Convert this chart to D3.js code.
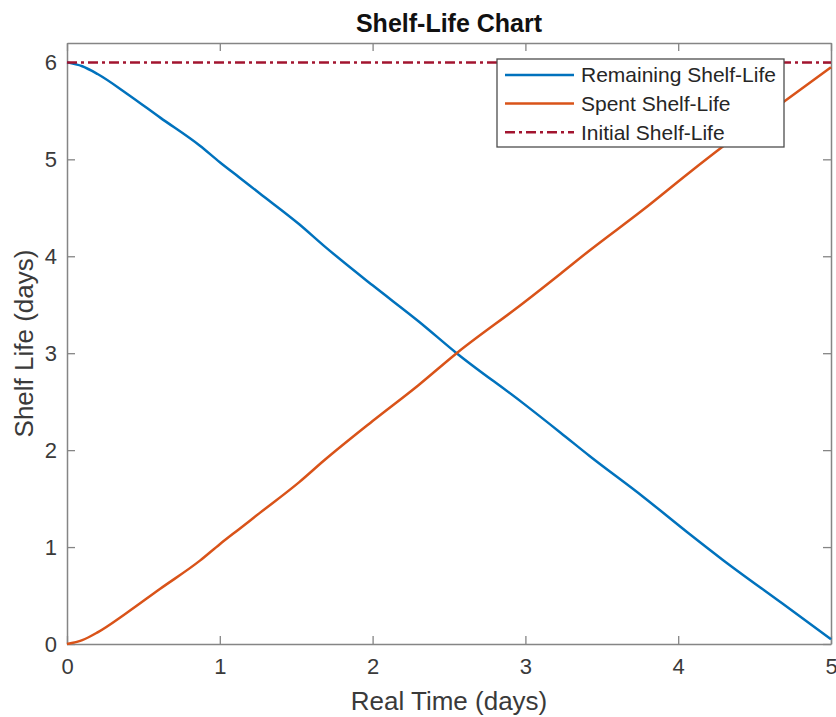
<!DOCTYPE html>
<html>
<head>
<meta charset="utf-8">
<script src="https://cdn.jsdelivr.net/npm/d3@7"></script>
<style>
  body { margin: 0; background: #fff; }
  text { font-family: "Liberation Sans", Arial, sans-serif; }
</style>
</head>
<body>
<div id="chart"></div>
<script>
// Values
var time = [0, 0.1, 0.2, 0.39, 0.61, 0.87, 1.0, 1.13, 1.26, 1.52, 1.68, 2.0, 2.3, 2.55, 2.98, 3.23, 3.42, 3.77, 4.07, 4.29, 4.68, 5.0];
var spent = [0, 0.04, 0.12, 0.32, 0.57, 0.86, 1.03, 1.19, 1.35, 1.67, 1.89, 2.30, 2.67, 3.00, 3.51, 3.82, 4.06, 4.48, 4.86, 5.13, 5.58, 5.95];
var remaining = [6.0, 5.96, 5.88, 5.68, 5.43, 5.14, 4.97, 4.81, 4.65, 4.33, 4.11, 3.70, 3.33, 3.00, 2.49, 2.18, 1.94, 1.52, 1.14, 0.87, 0.42, 0.05];
var initialLife = 6;
var xTicks = [0, 1, 2, 3, 4, 5];
var yTicks = [0, 1, 2, 3, 4, 5, 6];
var seriesNames = ["Remaining Shelf-Life", "Spent Shelf-Life", "Initial Shelf-Life"];

var W = 836, H = 717;
var margin = { top: 43, right: 5, bottom: 73, left: 67 };
var width = W - margin.left - margin.right,
    height = H - margin.top - margin.bottom;

var svg = d3.select("#chart").append("svg")
    .attr("width", W)
    .attr("height", H);

var g = svg.append("g")
    .attr("transform", "translate(" + margin.left + "," + margin.top + ")");

var x = d3.scaleLinear().domain([0, 5]).range([0, width]);
var y = d3.scaleLinear().domain([0, 6.2]).range([height, 0]);

var axisColor = "#858585", textColor = "#3a3a3a";

// axes, ticks pointing inward, box on
function styleAxis(sel) {
    sel.select(".domain").attr("stroke", axisColor).attr("stroke-width", 1.5);
    sel.selectAll(".tick line").attr("stroke", axisColor).attr("stroke-width", 1.3);
    sel.selectAll(".tick text").attr("fill", textColor).style("font-size", "22px");
}

g.append("g")
    .attr("transform", "translate(0," + height + ")")
    .call(d3.axisBottom(x).tickValues(xTicks).tickFormat(d3.format("d")).tickSizeInner(-8).tickSizeOuter(0).tickPadding(14))
    .call(styleAxis);

g.append("g")
    .call(d3.axisTop(x).tickValues(xTicks).tickFormat("").tickSizeInner(-8).tickSizeOuter(0))
    .call(styleAxis);

g.append("g")
    .call(d3.axisLeft(y).tickValues(yTicks).tickFormat(d3.format("d")).tickSizeInner(-8).tickSizeOuter(0).tickPadding(10))
    .call(styleAxis);

g.append("g")
    .attr("transform", "translate(" + width + ",0)")
    .call(d3.axisRight(y).tickValues(yTicks).tickFormat("").tickSizeInner(-8).tickSizeOuter(0))
    .call(styleAxis);

// lines
var remainData = time.map(function(t, i) { return [t, remaining[i]]; });
var spentData = time.map(function(t, i) { return [t, spent[i]]; });

var line = d3.line()
    .x(function(d) { return x(d[0]); })
    .y(function(d) { return y(d[1]); })
    .curve(d3.curveMonotoneX);

var colors = ["#0072BD", "#D95319", "#A2142F"];

g.append("path")
    .datum(remainData)
    .attr("fill", "none")
    .attr("stroke", colors[0])
    .attr("stroke-width", 2.5)
    .attr("d", line);

g.append("path")
    .datum(spentData)
    .attr("fill", "none")
    .attr("stroke", colors[1])
    .attr("stroke-width", 2.5)
    .attr("d", line);

g.append("line")
    .attr("x1", x(0)).attr("x2", x(5))
    .attr("y1", y(initialLife)).attr("y2", y(initialLife))
    .attr("stroke", colors[2])
    .attr("stroke-width", 2.5)
    .attr("stroke-dasharray", "10,4,3,4");

// legend
var legend = g.append("g")
    .attr("transform", "translate(" + (497 - margin.left) + "," + (59 - margin.top) + ")");

legend.append("rect")
    .attr("width", 287)
    .attr("height", 88)
    .attr("fill", "#fff")
    .attr("stroke", "#4d4d4d")
    .attr("stroke-width", 1.3);

var dashes = [null, null, "10,4,3,4"];
seriesNames.forEach(function(name, i) {
    var ly = 16 + i * 28.6;
    legend.append("line")
        .attr("x1", 8).attr("x2", 77)
        .attr("y1", ly).attr("y2", ly)
        .attr("stroke", colors[i])
        .attr("stroke-width", 2.5)
        .attr("stroke-dasharray", dashes[i]);
    legend.append("text")
        .attr("x", 84)
        .attr("y", ly)
        .attr("dy", "0.35em")
        .attr("fill", "#262626")
        .style("font-size", "21px")
        .text(name);
});

// title and axis labels
svg.append("text")
    .attr("x", margin.left + width / 2)
    .attr("y", 32)
    .attr("text-anchor", "middle")
    .attr("fill", "#111")
    .style("font-size", "25px")
    .style("font-weight", "bold")
    .text("Shelf-Life Chart");

svg.append("text")
    .attr("x", margin.left + width / 2)
    .attr("y", 710)
    .attr("text-anchor", "middle")
    .attr("fill", textColor)
    .style("font-size", "26px")
    .text("Real Time (days)");

svg.append("text")
    .attr("transform", "translate(33," + (margin.top + height / 2) + ") rotate(-90)")
    .attr("text-anchor", "middle")
    .attr("fill", textColor)
    .style("font-size", "26px")
    .text("Shelf Life (days)");
</script>
</body>
</html>
